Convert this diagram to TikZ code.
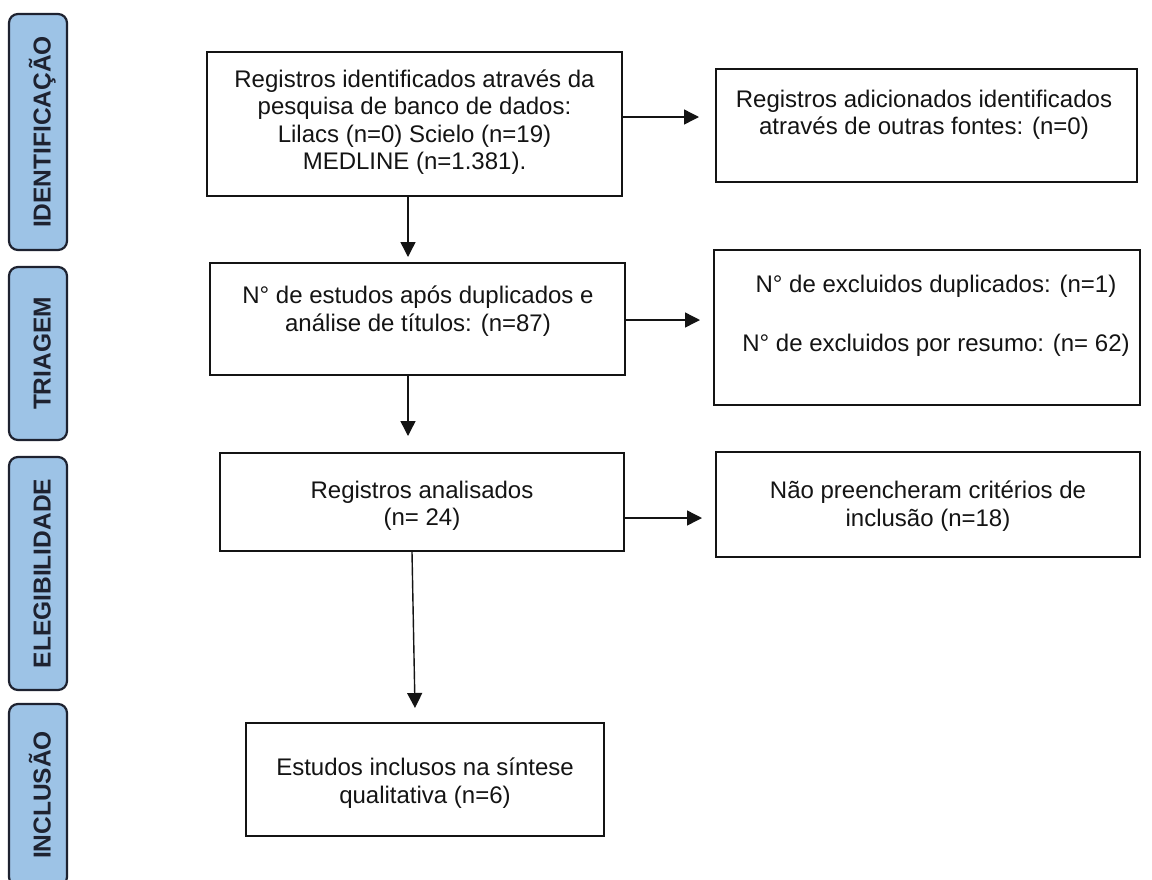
\documentclass[tikz,border=0pt]{standalone}
\usepackage{fontspec}
\setmainfont{Liberation Sans}
\usetikzlibrary{arrows.meta}
\definecolor{barblue}{HTML}{9DC3E6}
\definecolor{bardark}{HTML}{1E2230}
\definecolor{ink}{HTML}{141414}
\begin{document}
\begin{tikzpicture}[x=1pt,y=-1pt,
  box/.style={draw=ink, line width=2.2pt, inner sep=0pt},
  txt/.style={font=\fontsize{24}{27.5}\selectfont, align=center, inner sep=0pt, text=ink},
  bar/.style={draw=bardark, line width=2.2pt, fill=barblue, rounded corners=9pt, inner sep=0pt,
              rotate=90, font=\bfseries\fontsize{24.5}{28}\selectfont, text=bardark,
              text height=25pt, text depth=0pt},
  arr/.style={draw=ink, line width=1.4pt, -{Triangle[length=15pt,width=15pt]}}]
\useasboundingbox[fill=white] (0,0) rectangle (1152,879);

% side bars
\node[bar, minimum width=236pt, minimum height=58pt] (s1) at (38,132) {IDENTIFICAÇÃO};
\node[bar, minimum width=173pt, minimum height=58pt] (s2) at (38,353.5) {TRIAGEM};
\node[bar, minimum width=233pt, minimum height=58pt] (s3) at (38,573.5) {ELEGIBILIDADE};
\node[bar, minimum width=182pt, minimum height=58pt] (s4) at (38,795) {INCLUSÃO};

% boxes
\node[box, minimum width=415pt, minimum height=144pt] (b1) at (414.5,124) {};
\node[box, minimum width=421pt, minimum height=113pt] (b2) at (926.5,125.5) {};
\node[box, minimum width=415pt, minimum height=112pt] (b3) at (417.5,319) {};
\node[box, minimum width=426pt, minimum height=155pt] (b4) at (927,327.5) {};
\node[box, minimum width=404pt, minimum height=98pt] (b5) at (422,502) {};
\node[box, minimum width=424pt, minimum height=105pt] (b6) at (928,504.5) {};
\node[box, minimum width=358pt, minimum height=113pt] (b7) at (425,779.5) {};

% texts
\node[txt] (t1) at (414.5,122) {Registros identificados através da\\pesquisa de banco de dados:\\Lilacs (n=0) Scielo (n=19)\\MEDLINE (n=1.381).};
\node[txt] (t2) at (924,115) {Registros adicionados identificados\\através de outras fontes: (n=0)};
\node[txt] (t3) at (418,311) {N° de estudos após duplicados e\\análise de títulos: (n=87)};
\node[txt] (t4) at (936,316) {N° de excluidos duplicados: (n=1)\\[31pt]N° de excluidos por resumo: (n= 62)};
\node[txt] (t5) at (422,506) {Registros analisados\\(n= 24)};
\node[txt] (t6) at (928,506) {Não preencheram critérios de\\inclusão (n=18)};
\node[txt] (t7) at (425,783) {Estudos inclusos na síntese\\qualitativa (n=6)};

% arrow end points
\coordinate (e12) at (699,117);
\coordinate (e13) at (408,257);
\coordinate (e34) at (700,320);
\coordinate (e35) at (408,436);
\coordinate (e56) at (702,518);
\coordinate (e57) at (415,708);

% connectors
\draw[arr] (b1.east |- e12) -- (e12);
\draw[arr] (b1.south -| e13) -- (e13);
\draw[arr] (b3.east |- e34) -- (e34);
\draw[arr] (b3.south -| e35) -- (e35);
\draw[arr] (b5.east |- e56) -- (e56);
\draw[arr] ([xshift=-10pt]b5.south) -- (e57);
\end{tikzpicture}
\end{document}
